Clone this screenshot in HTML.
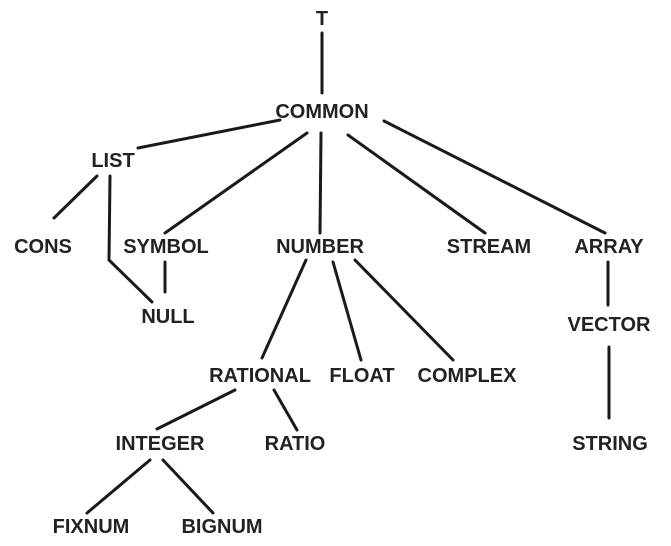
<!DOCTYPE html>
<html><head><meta charset="utf-8"><style>
html,body{margin:0;padding:0;background:#fff;width:671px;height:546px;overflow:hidden}
text{font-family:"Liberation Sans",Arial,sans-serif;font-weight:bold;font-size:20px;fill:#222;text-anchor:middle}
</style></head><body>
<svg width="671" height="546" viewBox="0 0 671 546" xmlns="http://www.w3.org/2000/svg">
<g stroke="#1a1a1a" stroke-width="3" fill="none" stroke-linecap="round" stroke-linejoin="round">
<line x1="322" y1="33" x2="322" y2="93"/>
<line x1="280" y1="120" x2="138" y2="148"/>
<line x1="307" y1="133" x2="165" y2="233"/>
<line x1="321" y1="133" x2="320" y2="233"/>
<line x1="348" y1="135" x2="485" y2="233"/>
<line x1="384" y1="121" x2="605" y2="233"/>
<line x1="97" y1="176" x2="54" y2="218"/>
<polyline points="110,176 109,260 152,302"/>
<line x1="165" y1="262" x2="165" y2="292"/>
<line x1="306" y1="260" x2="262" y2="358"/>
<line x1="333" y1="262" x2="361" y2="360"/>
<line x1="355" y1="260" x2="453" y2="360"/>
<line x1="608" y1="262" x2="608" y2="305"/>
<line x1="609" y1="347" x2="609" y2="418"/>
<line x1="235" y1="390" x2="157" y2="429"/>
<line x1="274" y1="390" x2="297" y2="430"/>
<line x1="150" y1="460" x2="87" y2="513"/>
<line x1="163" y1="460" x2="213" y2="513"/>
</g>
<text x="322" y="25">T</text>
<text x="322" y="118">COMMON</text>
<text x="113" y="167">LIST</text>
<text x="43" y="253">CONS</text>
<text x="166" y="253">SYMBOL</text>
<text x="320" y="253">NUMBER</text>
<text x="489" y="253">STREAM</text>
<text x="609" y="253">ARRAY</text>
<text x="168" y="323">NULL</text>
<text x="609" y="331">VECTOR</text>
<text x="260" y="382">RATIONAL</text>
<text x="362" y="382">FLOAT</text>
<text x="467" y="382">COMPLEX</text>
<text x="160" y="450">INTEGER</text>
<text x="295" y="450">RATIO</text>
<text x="610" y="450">STRING</text>
<text x="91" y="533">FIXNUM</text>
<text x="222" y="533">BIGNUM</text>
</svg>
</body></html>
